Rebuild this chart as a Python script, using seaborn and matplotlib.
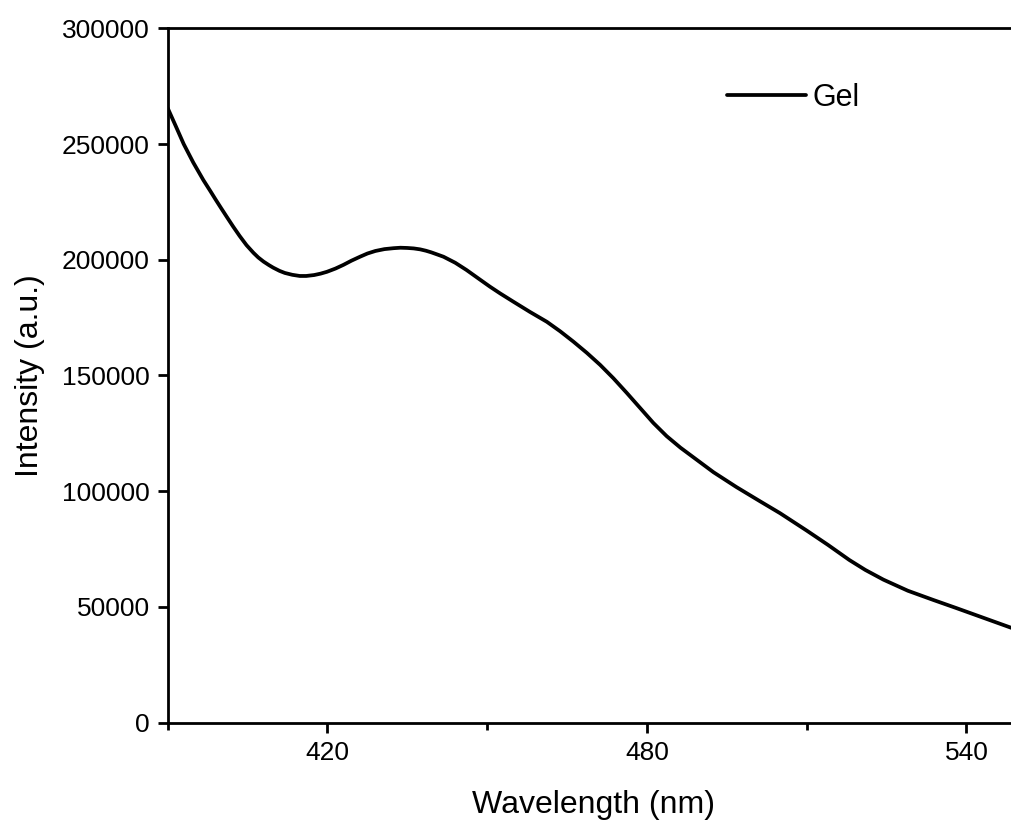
import matplotlib
matplotlib.use("Agg")
import matplotlib.pyplot as plt
import seaborn as sns
import pandas as pd
from matplotlib.ticker import MultipleLocator

wavelength = [390, 391.5, 393, 394.8, 396.7, 398, 399, 400, 401.1, 402.3, 403.5, 404.8, 406.1,
              407, 408, 409, 409.8, 411, 412, 413.4, 414.8, 416, 417.5, 418.7, 419.9,
              421.5, 423, 424.5, 426.1, 427.5, 429, 430.7, 432.4, 433.7, 435, 436.2, 437.4,
              438.5, 439.5, 440.6, 441.8, 444, 446.1, 448.6, 450.5, 452.4, 454.9, 458,
              461.2, 463.7, 466.2, 468.7, 471.2, 473.7, 476.2, 478.7, 481.2, 483.7, 486.3,
              489.4, 492.5, 496.8, 501.2, 505, 510, 514, 518, 521, 524.4, 529, 533.8,
              538, 543.2, 548.4, 550]
intensity = [265500, 257800, 250000, 242000, 234400, 229700, 226000, 222400, 218500, 214300,
             210300, 206300, 203000, 201000, 199200, 197700, 196600, 195200, 194300, 193500,
             193000, 193000, 193400, 194000, 194800, 196200, 197800, 199600, 201300, 202700,
             203800, 204600, 205000, 205200, 205100, 204900, 204500, 203900, 203200, 202300,
             201300, 198700, 195600, 191500, 188400, 185500, 181900, 177500, 173200, 169100,
             164600, 159800, 154600, 148800, 142500, 136000, 129500, 123800, 118800,
             113500, 108200, 101800, 95700, 90500, 83000, 76800, 70300, 66000, 61800, 57000,
             53000, 49600, 45300, 41000, 39700]
series_name = "Gel"

df = pd.DataFrame({"Wavelength": wavelength, "Intensity": intensity})

sns.set_theme(style="ticks")
plt.rcParams["font.family"] = ["Liberation Sans", "DejaVu Sans"]

fig = plt.figure(figsize=(10.11, 8.23), dpi=100)
ax = fig.add_axes([0.1659, 0.1219, 0.8427, 0.8437])

sns.lineplot(data=df, x="Wavelength", y="Intensity", ax=ax, color="black",
             linewidth=2.7, label=series_name)

ax.set_xlim(390, 550)
ax.set_ylim(0, 300000)
ax.xaxis.set_minor_locator(MultipleLocator(30))
ax.yaxis.set_major_locator(MultipleLocator(50000))
ax.set_xticks([420, 480, 540])

for side in ["left", "bottom", "top"]:
    ax.spines[side].set_visible(True)
    ax.spines[side].set_linewidth(2.0)
    ax.spines[side].set_color("black")
ax.spines["right"].set_visible(False)

ax.tick_params(axis="both", which="major", direction="out", length=7, width=2.0,
               labelsize=19, colors="black", labelcolor="black", top=False, right=False, pad=6)
ax.tick_params(axis="x", which="minor", direction="out", length=5, width=2.0,
               top=False, colors="black")
ax.tick_params(axis="y", which="minor", left=False)

ax.set_xlabel("Wavelength (nm)", fontsize=23, labelpad=18, color="black")
ax.set_ylabel("Intensity (a.u.)", fontsize=23, labelpad=12, color="black")

leg = ax.legend(loc="center left", bbox_to_anchor=(727 / 1011, (823 - 98) / 823),
                bbox_transform=fig.transFigure, frameon=False, fontsize=22,
                handlelength=2.6, handletextpad=0.2, borderpad=0, borderaxespad=0)
for t in leg.get_texts():
    t.set_color("black")

fig.savefig("out.png", dpi=100, facecolor="white")
